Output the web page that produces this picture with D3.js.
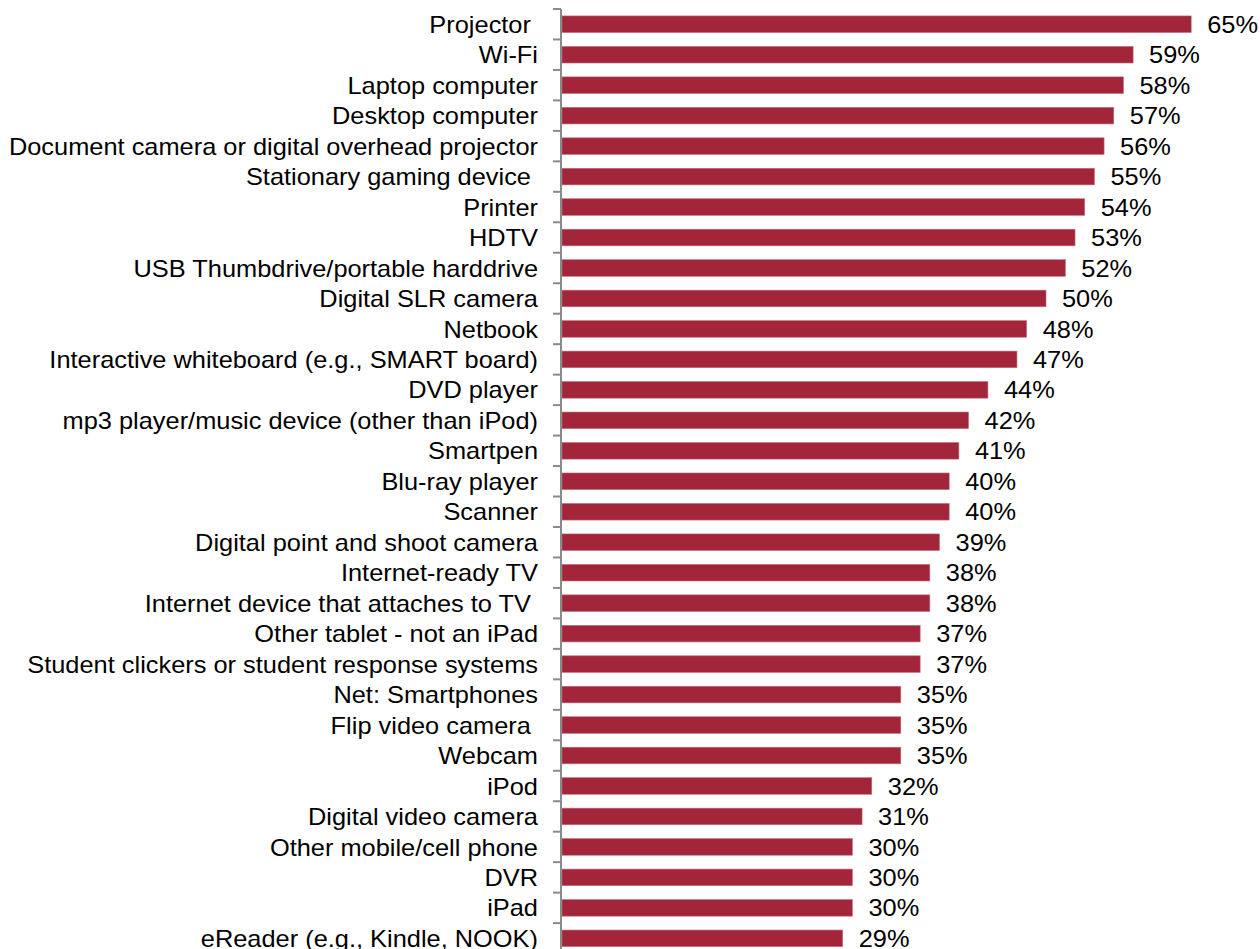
<!DOCTYPE html>
<html>
<head>
<meta charset="utf-8">
<script src="https://cdn.jsdelivr.net/npm/d3@7/dist/d3.min.js"></script>
<style>
  html, body { margin: 0; padding: 0; background: #fff; overflow: hidden; }
  svg { display: block; }
  text { font-family: "Liberation Sans", Arial, sans-serif; fill: #000; white-space: pre; }
</style>
</head>
<body>
<svg id="chart" width="1260" height="949"></svg>
<script>
// Devices, in the order they are listed (top to bottom)
const categories = [
  "Projector ",
  "Wi-Fi",
  "Laptop computer",
  "Desktop computer",
  "Document camera or digital overhead projector",
  "Stationary gaming device ",
  "Printer",
  "HDTV",
  "USB Thumbdrive/portable harddrive",
  "Digital SLR camera",
  "Netbook",
  "Interactive whiteboard (e.g., SMART board)",
  "DVD player",
  "mp3 player/music device (other than iPod)",
  "Smartpen",
  "Blu-ray player",
  "Scanner",
  "Digital point and shoot camera",
  "Internet-ready TV",
  "Internet device that attaches to TV ",
  "Other tablet - not an iPad",
  "Student clickers or student response systems",
  "Net: Smartphones",
  "Flip video camera ",
  "Webcam",
  "iPod",
  "Digital video camera",
  "Other mobile/cell phone",
  "DVR",
  "iPad",
  "eReader (e.g., Kindle, NOOK)"
];

// Share of respondents, percent
const values = [
  65, 59, 58, 57, 56, 55, 54, 53, 52, 50,
  48, 47, 44, 42, 41, 40, 40, 39, 38, 38,
  37, 37, 35, 35, 35, 32, 31, 30, 30, 30,
  29
];

(function () {
  const svg = d3.select("#chart");
  const fontSize = 23;
  const stretch = 1.104;   // slightly widened lettering
  const axisX = 561;
  const plotTop = 9;
  const step = 30.47;

  const x = d3.scaleLinear().domain([0, 100]).range([axisX + 1, axisX + 1 + 968]);
  const y = d3.scaleBand()
    .domain(categories)
    .range([plotTop, plotTop + step * categories.length])
    .paddingInner(0.455)
    .paddingOuter(0.2275);

  const data = categories.map((c, i) => ({ c, v: values[i] }));
  const textY = d => y(d.c) + y.bandwidth() / 2 + 8.6;

  // Bars
  svg.append("g")
    .selectAll("rect")
    .data(data)
    .join("rect")
    .attr("x", x(0))
    .attr("y", d => y(d.c))
    .attr("width", d => x(d.v) - x(0))
    .attr("height", y.bandwidth())
    .attr("fill", "#a3253a")
    .attr("stroke", "#c2707d")
    .attr("stroke-width", 0.6);

  // Category axis: vertical line with ticks between categories
  const axis = svg.append("g");
  axis.append("line")
    .attr("x1", axisX).attr("x2", axisX)
    .attr("y1", plotTop).attr("y2", 949)
    .attr("stroke", "#8a8a8a").attr("stroke-width", 2);
  const bounds = d3.range(categories.length + 1).map(i => plotTop + i * y.step());
  axis.selectAll("line.tick")
    .data(bounds)
    .join("line")
    .attr("class", "tick")
    .attr("x1", axisX - 8).attr("x2", axisX)
    .attr("y1", d => d).attr("y2", d => d)
    .attr("stroke", "#8a8a8a").attr("stroke-width", 2);

  // Category labels
  svg.append("g")
    .selectAll("text")
    .data(data)
    .join("text")
    .attr("transform", d => `translate(538,${textY(d)}) scale(${stretch},1)`)
    .attr("text-anchor", "end")
    .style("font-size", fontSize + "px")
    .text(d => d.c);

  // Value labels
  svg.append("g")
    .selectAll("text")
    .data(data)
    .join("text")
    .attr("transform", d => `translate(${x(d.v) + 16},${textY(d)}) scale(${stretch},1)`)
    .style("font-size", fontSize + "px")
    .text(d => d.v + "%");
})();
</script>
</body>
</html>
